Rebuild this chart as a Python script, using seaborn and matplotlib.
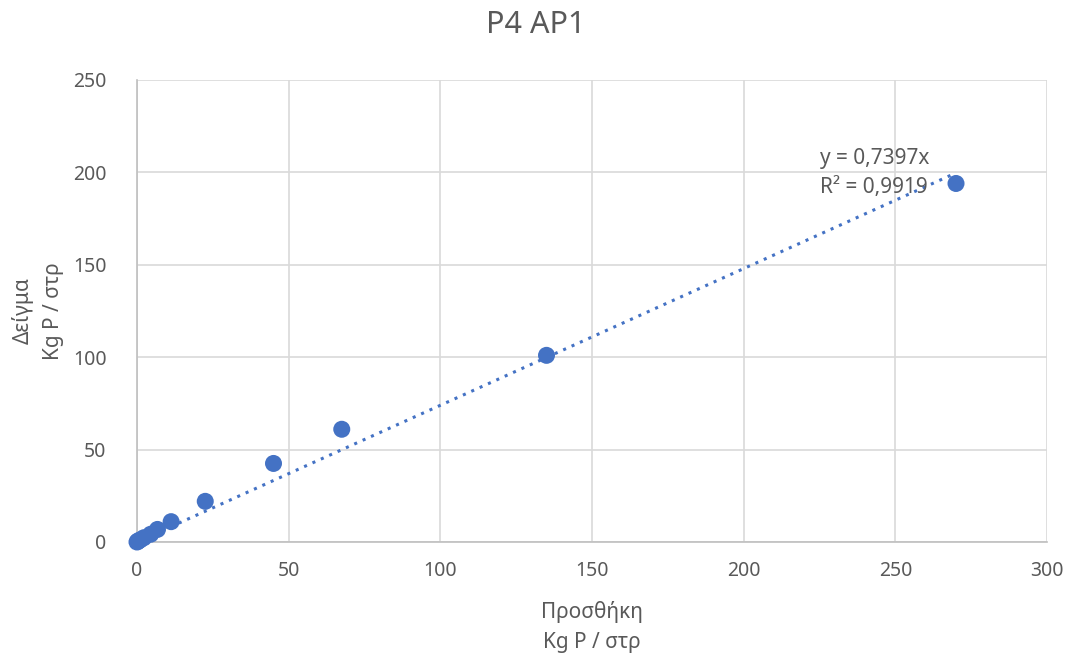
import numpy as np
import pandas as pd
import matplotlib
matplotlib.use("Agg")
import matplotlib.pyplot as plt
import seaborn as sns

# data
prosthiki = [0, 0.225, 0.45, 1.125, 2.25, 4.5, 6.75, 11.25, 22.5, 45, 67.5, 135, 270]
deigma = [0, 0.3, 0.6, 1.2, 2.3, 4.2, 6.8, 11, 22, 42.5, 61, 101, 194]
slope = 0.7397
r2 = 0.9919
x_ticks = [0, 50, 100, 150, 200, 250, 300]
y_ticks = [0, 50, 100, 150, 200, 250]

df = pd.DataFrame({"x": prosthiki, "y": deigma})

sns.set_style("white")
plt.rcParams['font.family'] = ['Noto Sans', 'DejaVu Sans']
text_col = "#595959"

fig = plt.figure(figsize=(10.72, 6.6), dpi=100)
ax = fig.add_axes([0.1278, 0.1788, 0.8489, 0.70])

sns.scatterplot(data=df, x="x", y="y", ax=ax, s=150, color="#4472C4",
                edgecolor="none", zorder=3, clip_on=False)

# linear trendline through origin
tx = np.array([0, max(prosthiki)])
ax.plot(tx, slope * tx, linestyle=(0, (1, 2)), color="#4472C4", linewidth=2.2, zorder=2)

ax.set_xlim(0, 300)
ax.set_ylim(0, 250)
ax.set_xticks(x_ticks)
ax.set_yticks(y_ticks)
ax.grid(True, color="#D9D9D9", linewidth=1.2)
ax.set_axisbelow(True)
for s in ["top", "right"]:
    ax.spines[s].set_visible(False)
for s in ["left", "bottom"]:
    ax.spines[s].set_color("#BFBFBF")
    ax.spines[s].set_linewidth(1.2)
ax.tick_params(axis="x", labelsize=14, colors=text_col, length=0, pad=14)
ax.tick_params(axis="y", labelsize=14, colors=text_col, length=0, pad=22)

ax.set_xlabel("Προσθήκη\nKg P / στρ", fontsize=15, color=text_col, labelpad=14, linespacing=1.6)
ax.set_ylabel("Δείγμα\nKg P / στρ", fontsize=15, color=text_col, labelpad=6, linespacing=1.6)
fig.suptitle("P4 AP1", fontsize=22, color=text_col, y=0.985)

eq = "y = {}x\nR² = {}".format(f"{slope:.4f}".replace(".", ","), f"{r2:.4f}".replace(".", ","))
ax.text(225, 199.5, eq, fontsize=15, color=text_col, va="center", linespacing=1.5)

fig.savefig("out.png", dpi=100)
